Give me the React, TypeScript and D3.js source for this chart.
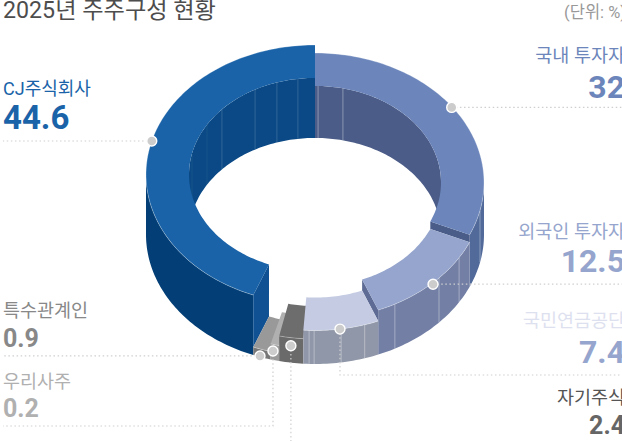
import React from 'react';
import * as d3 from 'd3';

// clockwise from 12 o'clock
const categories = ['국내 투자자', '외국인 투자자', '국민연금공단', '자기주식', '우리사주', '특수관계인', 'CJ주식회사'];
const shares = ['32', '12.5', '7.4', '2.4', '0.2', '0.9', '44.6'];
// the original stretches the tiny slices, so the drawn sweep differs a bit from the share
const drawnShares = [31.6, 12.3, 7.2, 2.3, 0.83, 1.72, 44.05];
// block height of each slice
const sliceHeights = [52, 44.5, 33.5, 25, 15.5, 8, 60];

const topColors = ['#6c86bb', '#95a5cd', '#c4cbe2', '#6d6d6d', '#b0b0b0', '#999999', '#1a63a8'];
const outerColors = ['#516a9a', '#737fa5', '#9097a8', '#6a6a6a', '#9a9a9a', '#777777', '#033f76'];
const innerColors = ['#4b5c88', '#5e6b95', '#9097a8', '#6a6a6a', '#9a9a9a', '#777777', '#0a4985'];
const faceColors = ['#4a5c88', '#5e6b95', '#9097a8', '#6a6a6a', '#9a9a9a', '#777777', '#0f5192'];
const drawOrder = [0, 1, 6, 5, 4, 3, 2];

// seams on the walls, in degrees clockwise from the top
const outerSeams = [102.5, 121.5, 132.8, 151.8, 162.9, 171.1, 180.3, 182];
const innerSeams = [1.4, 12.8, -7.8, -17.6, -28.4, -47.6, -59, -77.4];

const width = 622;
const height = 441;
const innerRatio = 0.7456;

const x = d3.scaleLinear().domain([-1, 1]).range([146, 484]);
const y = d3.scaleLinear().domain([-1, 1]).range([105, 364]);
const rad = (deg: number) => (deg * Math.PI) / 180;

const px = (a: number, r: number) => x(Math.sin(a) * r);
const py = (a: number, r: number, z: number) => y(-Math.cos(a) * r) - z;

type P = [number, number];
const line = d3.line<P>();

function arcPoints(a0: number, a1: number, r: number, z: number): P[] {
  const n = Math.max(2, Math.ceil(Math.abs(a1 - a0) / 0.02));
  return d3.range(n + 1).map(i => {
    const a = a0 + ((a1 - a0) * i) / n;
    return [px(a, r), py(a, r, z)] as P;
  });
}

function band(a0: number, a1: number, r0: number, z0: number, r1: number, z1: number) {
  return line([...arcPoints(a0, a1, r0, z0), ...arcPoints(a1, a0, r1, z1)]) + 'Z';
}

const slices = d3.pie<number>().sort(null).value(d => d)(drawnShares);

// [angle, height above the bottom plane] of each marker dot
const markerAngles = [54, 135.7, 171.5, 188.2, 194.4, 199, 285];
const markerHeights = [51, 43, 33.5, 17, 9, 1, 60];

const labels = [
  { i: 0, anchor: 'end', tx: 625, ly: 62, vy: 98, lc: '#6c86bb', vc: '#6c86bb', size: 32 },
  { i: 1, anchor: 'end', tx: 625, ly: 238, vy: 272, lc: '#95a5cd', vc: '#95a5cd', size: 32 },
  { i: 2, anchor: 'end', tx: 625, ly: 327, vy: 363, lc: '#dde1ef', vc: '#95a5cd', size: 32 },
  { i: 3, anchor: 'end', tx: 625, ly: 404, vy: 434, lc: '#555555', vc: '#666666', size: 25 },
  { i: 4, anchor: 'start', tx: 3, ly: 388, vy: 417, lc: '#b0b0b0', vc: '#b0b0b0', size: 25 },
  { i: 5, anchor: 'start', tx: 3, ly: 317, vy: 347, lc: '#888888', vc: '#888888', size: 25 },
  { i: 6, anchor: 'start', tx: 3, ly: 95, vy: 129, lc: '#1a63a8', vc: '#1a63a8', size: 33 },
];

const fontFamily = "Roboto, 'Noto Sans CJK KR', sans-serif";

export default function App() {
  const markers: P[] = markerAngles.map((d, i) => [px(rad(d), 1), py(rad(d), 1, markerHeights[i])]);
  const [dom, fgn, pen, tre, emp, rel, cj] = markers;
  const leaders: P[][] = [
    [dom, [width, dom[1]]],
    [fgn, [width, fgn[1]]],
    [pen, [pen[0], 375], [width, 375]],
    [tre, [tre[0], height]],
    [emp, [emp[0], 426], [3, 426]],
    [rel, [3, rel[1]]],
    [cj, [3, cj[1]]],
  ];

  return (
    <svg
      width={width}
      height={height}
      style={{ position: 'absolute', left: 0, top: 0, background: '#fff' }}
      fontFamily={fontFamily}
    >
      {/* back inner walls first */}
      {[0, 6].map(i => {
        const s = slices[i];
        const a0 = i === 0 ? s.startAngle : Math.max(s.startAngle, rad(270));
        const a1 = i === 0 ? Math.min(s.endAngle, rad(90)) : s.endAngle;
        return (
          <path key={i} d={band(a0, a1, innerRatio, sliceHeights[i], innerRatio, 0)} fill={innerColors[i]} />
        );
      })}
      {innerSeams.map(d => {
        const a = rad(d);
        const h = d >= 0 ? sliceHeights[0] : sliceHeights[6];
        const opacity = d < -50 ? 0.06 : d >= 0 ? 0.35 : 0.16;
        return (
          <line
            key={d}
            x1={px(a, innerRatio)}
            x2={px(a, innerRatio)}
            y1={py(a, innerRatio, h)}
            y2={py(a, innerRatio, 0)}
            stroke="#fff"
            strokeOpacity={opacity}
          />
        );
      })}

      {drawOrder.map(i => {
        const s = slices[i];
        const h = sliceHeights[i];
        const a0 = Math.max(s.startAngle, rad(90));
        const a1 = Math.min(s.endAngle, rad(270));
        const seams = outerSeams.filter(d => rad(d) > s.startAngle && rad(d) < s.endAngle);
        // a block only shows a side face where it faces the viewer
        let face: string | null = null;
        if (s.endAngle < Math.PI) {
          const a = s.endAngle;
          const floor = sliceHeights[i + 1];
          face = line([
            [px(a, 1), py(a, 1, h)],
            [px(a, innerRatio), py(a, innerRatio, h)],
            [px(a, innerRatio), py(a, innerRatio, floor)],
            [px(a, 1), py(a, 1, floor)],
          ]) + 'Z';
        } else if (i === 6) {
          const a = s.startAngle;
          const floor = sliceHeights[5];
          face = line([
            [px(a, 1), py(a, 1, h)],
            [px(a, innerRatio), py(a, innerRatio, h)],
            [px(a, innerRatio), py(a, innerRatio, floor)],
            [px(a, 1), py(a, 1, floor)],
          ]) + 'Z';
        }
        return (
          <g key={i}>
            {a1 > a0 && <path d={band(a0, a1, 1, h, 1, 0)} fill={outerColors[i]} />}
            {seams.map(d => {
              const a = rad(d);
              return (
                <line
                  key={d}
                  x1={px(a, 1)}
                  x2={px(a, 1)}
                  y1={py(a, 1, h)}
                  y2={py(a, 1, 0)}
                  stroke="#fff"
                  strokeOpacity={0.35}
                />
              );
            })}
            {face && <path d={face} fill={faceColors[i]} />}
            <path d={band(s.startAngle, s.endAngle, 1, h, innerRatio, h)} fill={topColors[i]} />
            <path
              d={line(arcPoints(s.startAngle, s.endAngle, 1, h)) as string}
              fill="none"
              stroke="#fff"
              strokeOpacity={0.35}
              strokeWidth={0.8}
            />
          </g>
        );
      })}

      {leaders.map((pts, i) => (
        <path
          key={i}
          d={line(pts) as string}
          fill="none"
          stroke="#cfcfcf"
          strokeWidth={1.2}
          strokeDasharray="1.5 2.6"
        />
      ))}
      {markers.map((m, i) => (
        <circle key={i} cx={m[0]} cy={m[1]} r={5} fill="#cccccc" stroke="#fff" strokeWidth={1.4} />
      ))}

      <text x={3} y={18} fontSize={23.2} fontWeight={400} fill="#4d4d4d">
        2025년 주주구성 현황
      </text>
      <text x={626} y={18} fontSize={16.5} textAnchor="end" fill="#999999">
        (단위: %)
      </text>

      {labels.map(l => (
        <g key={l.i} textAnchor={l.anchor}>
          <text x={l.tx} y={l.ly} fontSize={l.i === 6 ? 18 : 18.5} fill={l.lc}>
            {categories[l.i]}
          </text>
          <text x={l.tx} y={l.vy} fontSize={l.size} fontWeight={700} fill={l.vc}>
            {shares[l.i]}
          </text>
        </g>
      ))}
    </svg>
  );
}
